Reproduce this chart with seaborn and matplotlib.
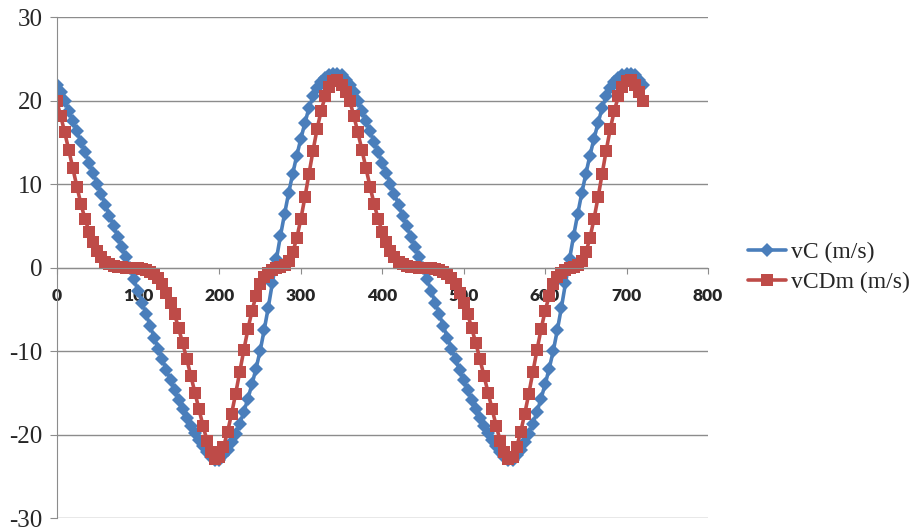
import numpy as np
import pandas as pd
import matplotlib
matplotlib.use("Agg")
import matplotlib.pyplot as plt
import seaborn as sns

# crank angle (deg), one point every 5 degrees
angle = np.arange(0, 725, 5)

vC = [21.8, 21.0, 20.0, 18.8, 17.5, 16.3, 15.0, 13.8, 12.5, 11.3,
      10.0, 8.8, 7.5, 6.2, 5.0, 3.7, 2.5, 1.2, 0.0, -1.4,
      -2.8, -4.2, -5.6, -7.0, -8.4, -9.7, -11.0, -12.3, -13.5, -14.7,
      -15.9, -17.0, -18.0, -19.0, -19.8, -20.6, -21.4, -22.1, -22.7, -23.1,
      -23.0, -22.5, -21.8, -20.9, -19.9, -18.7, -17.3, -15.7, -14.0, -12.1,
      -10.0, -7.5, -4.8, -1.9, 1.0, 3.8, 6.4, 8.9, 11.2, 13.4,
      15.4, 17.3, 19.1, 20.5, 21.5, 22.2, 22.7, 23.0, 23.2, 23.2,
      23.0, 22.5,
      21.8, 21.0, 20.0, 18.8, 17.5, 16.3, 15.0, 13.8, 12.5, 11.3,
      10.0, 8.8, 7.5, 6.2, 5.0, 3.7, 2.5, 1.2, 0.0, -1.4,
      -2.8, -4.2, -5.6, -7.0, -8.4, -9.7, -11.0, -12.3, -13.5, -14.7,
      -15.9, -17.0, -18.0, -19.0, -19.8, -20.6, -21.4, -22.1, -22.7, -23.1,
      -23.0, -22.5, -21.8, -20.9, -19.9, -18.7, -17.3, -15.7, -14.0, -12.1,
      -10.0, -7.5, -4.8, -1.9, 1.0, 3.8, 6.4, 8.9, 11.2, 13.4,
      15.4, 17.3, 19.1, 20.5, 21.5, 22.2, 22.7, 23.0, 23.2, 23.2,
      23.0, 22.5,
      21.8]

vCDm = [20.0, 18.2, 16.2, 14.1, 11.9, 9.7, 7.6, 5.8, 4.3, 3.0,
        2.0, 1.2, 0.7, 0.4, 0.2, 0.1, 0.05, 0.0, 0.0, -0.05,
        -0.1, -0.2, -0.3, -0.5, -0.8, -1.3, -2.0, -3.0, -4.2, -5.6,
        -7.3, -9.1, -11.0, -13.0, -15.0, -17.0, -19.0, -20.8, -22.1, -22.9,
        -22.7, -21.5, -19.7, -17.5, -15.1, -12.5, -9.9, -7.4, -5.2, -3.4,
        -2.0, -1.1, -0.6, -0.3, -0.1, 0.1, 0.3, 0.8, 1.8, 3.5,
        5.8, 8.4, 11.2, 14.0, 16.6, 18.8, 20.5, 21.6, 22.3, 22.5,
        21.8, 21.0,
        20.0, 18.2, 16.2, 14.1, 11.9, 9.7, 7.6, 5.8, 4.3, 3.0,
        2.0, 1.2, 0.7, 0.4, 0.2, 0.1, 0.05, 0.0, 0.0, -0.05,
        -0.1, -0.2, -0.3, -0.5, -0.8, -1.3, -2.0, -3.0, -4.2, -5.6,
        -7.3, -9.1, -11.0, -13.0, -15.0, -17.0, -19.0, -20.8, -22.1, -22.9,
        -22.7, -21.5, -19.7, -17.5, -15.1, -12.5, -9.9, -7.4, -5.2, -3.4,
        -2.0, -1.1, -0.6, -0.3, -0.1, 0.1, 0.3, 0.8, 1.8, 3.5,
        5.8, 8.4, 11.2, 14.0, 16.6, 18.8, 20.5, 21.6, 22.3, 22.5,
        21.8, 21.0,
        20.0]

series_names = ["vC (m/s)", "vCDm (m/s)"]
x_ticks = [0, 100, 200, 300, 400, 500, 600, 700, 800]
y_ticks = [-30, -20, -10, 0, 10, 20, 30]

df = pd.DataFrame({"angle": angle, "vC": vC, "vCDm": vCDm})

sns.set_style("white")
plt.rcParams["axes.unicode_minus"] = False

fig = plt.figure(figsize=(9.16, 5.32), dpi=100)
ax = fig.add_axes([0.0617, 0.0263, 0.7112, 0.9417])

grey = "#8c8c8c"
sns.lineplot(data=df, x="angle", y="vC", ax=ax, color="#4A7EBB", lw=2.6,
             marker="D", markersize=7.5, markeredgewidth=0, label=series_names[0])
sns.lineplot(data=df, x="angle", y="vCDm", ax=ax, color="#BE4B48", lw=2.6,
             marker="s", markersize=8, markeredgewidth=0, label=series_names[1])

ax.set_xlim(0, 800)
ax.set_ylim(-30, 30)
ax.set_xticks(x_ticks)
ax.set_yticks(y_ticks)
ax.set_xlabel("")
ax.set_ylabel("")

ax.yaxis.grid(True, color=grey, lw=1.0)
ax.set_axisbelow(True)
for s in ["top", "right"]:
    ax.spines[s].set_visible(False)
ax.spines["left"].set_color(grey)
ax.spines["bottom"].set_color(grey)
ax.spines["bottom"].set_position(("data", 0))

ax.tick_params(axis="y", direction="out", length=5, color=grey, pad=5,
               labelsize=18, left=True)
ax.tick_params(axis="x", direction="out", length=4.5, color=grey, pad=10,
               labelsize=12.5, bottom=True)
plt.setp(ax.get_yticklabels(), family="Liberation Serif")
plt.setp(ax.get_xticklabels(), family="Lato", fontweight="heavy")

ax.legend(loc="center left", bbox_to_anchor=(0.8166, 0.497),
          bbox_transform=fig.transFigure, frameon=False, borderaxespad=0,
          borderpad=0, handlelength=1.6, handletextpad=0.2, labelspacing=0.35,
          prop={"family": "Liberation Serif", "size": 17})

fig.savefig("out.png", dpi=100)
